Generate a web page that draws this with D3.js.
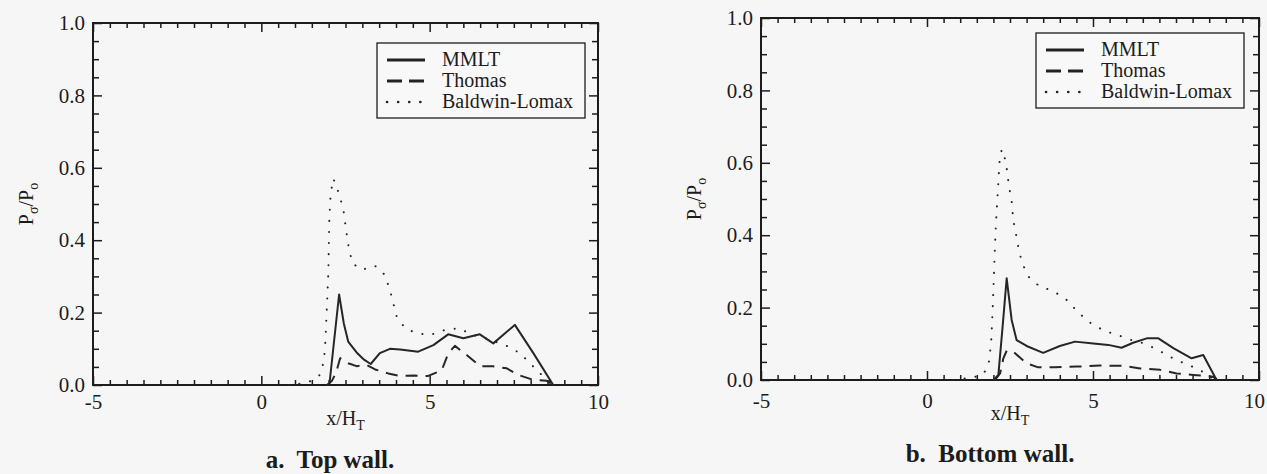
<!DOCTYPE html>
<html>
<head>
<meta charset="UTF-8">
<title>Pressure ratio, top and bottom wall</title>
<script src="https://d3js.org/d3.v7.min.js"></script>
<style>
  body { margin: 0; background: #f6f6f6; }
  svg { font-family: "Liberation Serif", "Times New Roman", serif; fill: #1c1c1c; }
  .tick text { font-family: "Liberation Serif", "Times New Roman", serif; font-size: 21px; fill: #1c1c1c; }
  .tick line { stroke: #1c1c1c; stroke-width: 1.5; }
  .frame { fill: none; stroke: #1c1c1c; stroke-width: 2; }
  .curve { fill: none; stroke: #262626; stroke-width: 2; stroke-linejoin: round; }
  .title { font-size: 20px; }
  .caption { font-size: 25px; font-weight: bold; }
  .legend-box { fill: #f8f8f8; stroke: #1c1c1c; stroke-width: 1.3; }
  .legend text { font-size: 20px; }
</style>
</head>
<body>
<svg id="chart" width="1267" height="474"></svg>
<script>
// ---- data ----
var seriesNames = ["MMLT", "Thomas", "Baldwin-Lomax"]
var xTicks = [-5, 0, 5, 10]
var yTicks = [0, 0.2, 0.4, 0.6, 0.8, 1.0]

// a. top wall
var topMmlt = [[2.02,0],[2.31,0.25],[2.45,0.17],[2.58,0.12],[2.83,0.09],[3.05,0.07],[3.25,0.058],
  [3.52,0.088],[3.82,0.1],[4.12,0.098],[4.66,0.092],[5.11,0.11],[5.55,0.14],[6.0,0.129],
  [6.49,0.14],[6.89,0.115],[7.53,0.166],[8.08,0.088],[8.67,0]]
var topThomas = [[1.95,0],[2.1,0.012],[2.22,0.034],[2.34,0.074],[2.58,0.06],[2.83,0.052],[3.13,0.055],
  [3.38,0.043],[3.77,0.032],[4.12,0.025],[4.56,0.026],[4.96,0.025],[5.36,0.041],[5.55,0.087],
  [5.75,0.108],[6.1,0.083],[6.5,0.052],[6.88,0.052],[7.29,0.046],[7.63,0.028],[8.08,0.014],
  [8.47,0.012],[8.67,0]]
var topBaldwin = [[0.8,0],[1.34,0.006],[1.54,0.014],[1.74,0.028],[1.84,0.06],[1.89,0.097],[1.94,0.2],
  [1.99,0.31],[2.02,0.46],[2.06,0.53],[2.14,0.57],[2.32,0.525],[2.44,0.483],[2.53,0.42],
  [2.61,0.373],[2.71,0.336],[2.98,0.318],[3.38,0.329],[3.67,0.304],[3.82,0.262],[3.92,0.226],
  [4.02,0.189],[4.27,0.157],[4.61,0.143],[5.01,0.138],[5.45,0.152],[5.85,0.157],[6.3,0.138],
  [6.8,0.125],[7.34,0.106],[7.68,0.088],[7.98,0.06],[8.28,0.032],[8.52,0.014],[8.7,0]]

// b. bottom wall
var bottomMmlt = [[2.0,0],[2.15,0.014],[2.28,0.15],[2.4,0.281],[2.55,0.166],[2.7,0.11],[3.0,0.094],
  [3.5,0.075],[4.0,0.094],[4.46,0.106],[5.01,0.101],[5.46,0.097],[5.86,0.089],[6.21,0.103],
  [6.62,0.115],[6.97,0.115],[7.42,0.088],[7.97,0.06],[8.32,0.069],[8.67,0.009],[8.73,0]]
var bottomThomas = [[2.05,0],[2.2,0.018],[2.3,0.06],[2.4,0.081],[2.6,0.078],[2.8,0.062],[3.0,0.046],
  [3.35,0.035],[3.86,0.035],[4.51,0.037],[5.21,0.04],[5.91,0.039],[6.42,0.032],[7.02,0.028],
  [7.52,0.018],[8.02,0.014],[8.62,0.009],[8.73,0]]
var bottomBaldwin = [[0.8,0],[1.4,0.007],[1.7,0.017],[1.85,0.04],[1.93,0.1],[1.98,0.2],[2.02,0.3],
  [2.06,0.4],[2.1,0.47],[2.14,0.53],[2.18,0.6],[2.25,0.637],[2.38,0.603],[2.42,0.569],[2.48,0.53],
  [2.55,0.494],[2.6,0.44],[2.71,0.389],[2.78,0.352],[2.9,0.316],[3.08,0.283],[3.4,0.258],
  [3.8,0.246],[4.21,0.221],[4.56,0.186],[4.96,0.155],[5.36,0.135],[5.76,0.124],[6.09,0.112],
  [6.54,0.101],[6.92,0.085],[7.32,0.064],[7.7,0.048],[8.12,0.032],[8.42,0.017],[8.6,0.005],[8.7,0]]

// line styles per series: solid, dashed, dotted
var dashes = [null, "12,8", "0.1,11"]
var legendDashes = [null, "15,7", "0.1,11"]

var panels = [
  { left: 93, top: 23, width: 505, height: 362, pad: 9, legX: 284, legY: 20, lastShift: 0,
    caption: "a.\u00a0 Top wall.", capX: 330, capY: 468, series: [topMmlt, topThomas, topBaldwin] },
  { left: 761, top: 18, width: 498, height: 362, pad: 13, legX: 275, legY: 15, lastShift: -5,
    caption: "b.\u00a0 Bottom wall.", capX: 990, capY: 462, series: [bottomMmlt, bottomThomas, bottomBaldwin] }
]

var svg = d3.select("#chart")

panels.forEach(function(p) {
  var g = svg.append("g").attr("transform", "translate(" + p.left + "," + p.top + ")")
  var x = d3.scaleLinear().domain([-5, 10]).range([0, p.width])
  var y = d3.scaleLinear().domain([0, 1]).range([p.height, 0])

  var xMinor = d3.range(-5, 10.001, 0.5).filter(function(v) { return xTicks.indexOf(v) < 0 })
  var yMinor = d3.range(0, 1.0001, 0.05).filter(function(v) { return Math.abs(Math.round(v * 5) - v * 5) > 1e-6 })

  // major ticks (inward) with labels
  var xAxis = g.append("g").attr("transform", "translate(0," + p.height + ")")
    .call(d3.axisBottom(x).tickValues(xTicks).tickSize(-9).tickPadding(p.pad).tickFormat(function(d) { return String(d) }))
  xAxis.selectAll(".tick text").filter(function(d) { return d == 10 }).attr("dx", p.lastShift)
  g.append("g").call(d3.axisTop(x).tickValues(xTicks).tickSize(-9).tickFormat(""))
  g.append("g")
    .call(d3.axisLeft(y).tickValues(yTicks).tickSize(-9).tickPadding(8).tickFormat(d3.format(".1f")))
  g.append("g").attr("transform", "translate(" + p.width + ",0)")
    .call(d3.axisRight(y).tickValues(yTicks).tickSize(-9).tickFormat(""))

  // minor ticks
  g.append("g").attr("transform", "translate(0," + p.height + ")")
    .call(d3.axisBottom(x).tickValues(xMinor).tickSize(-5).tickFormat(""))
  g.append("g").call(d3.axisTop(x).tickValues(xMinor).tickSize(-5).tickFormat(""))
  g.append("g").call(d3.axisLeft(y).tickValues(yMinor).tickSize(-6).tickFormat(""))
  g.append("g").attr("transform", "translate(" + p.width + ",0)")
    .call(d3.axisRight(y).tickValues(yMinor).tickSize(-6).tickFormat(""))

  g.selectAll(".domain").remove()
  g.append("rect").attr("class", "frame").attr("width", p.width).attr("height", p.height)

  // curves
  var line = d3.line().x(function(d) { return x(d[0]) }).y(function(d) { return y(d[1]) })
  p.series.forEach(function(s, i) {
    g.append("path").datum(s).attr("class", "curve").attr("d", line)
      .attr("stroke-dasharray", dashes[i])
      .attr("stroke-width", i == 2 ? 3 : 2.1)
      .attr("stroke-linecap", i == 2 ? "round" : "butt")
  })

  // legend
  var leg = g.append("g").attr("class", "legend").attr("transform", "translate(" + p.legX + "," + p.legY + ")")
  leg.append("rect").attr("class", "legend-box").attr("width", 208).attr("height", 75)
  seriesNames.forEach(function(name, i) {
    var cy = 17 + i * 21
    leg.append("line").attr("x1", 10).attr("x2", 48).attr("y1", cy).attr("y2", cy)
      .attr("stroke", "#222").attr("stroke-width", i == 2 ? 2.6 : 2.8)
      .attr("stroke-dasharray", legendDashes[i])
      .attr("stroke-linecap", i == 2 ? "round" : "butt")
    leg.append("text").attr("x", 65).attr("y", cy + 6).text(name)
  })

  // axis titles
  var xt = g.append("text").attr("class", "title").attr("text-anchor", "middle")
    .attr("x", p.width / 2).attr("y", p.height + 40)
  xt.append("tspan").text("x/H")
  xt.append("tspan").attr("font-size", 14).attr("dy", 5).text("T")

  var yt = g.append("text").attr("class", "title").attr("text-anchor", "middle")
    .attr("transform", "translate(-60," + (p.height / 2) + ") rotate(-90)")
  yt.append("tspan").text("P")
  yt.append("tspan").attr("font-size", 14).attr("dy", 5).text("σ")
  yt.append("tspan").attr("dy", -5).text("/P")
  yt.append("tspan").attr("font-size", 14).attr("dy", 5).text("o")

  svg.append("text").attr("class", "caption").attr("text-anchor", "middle")
    .attr("x", p.capX).attr("y", p.capY).text(p.caption)
})
</script>
</body>
</html>
